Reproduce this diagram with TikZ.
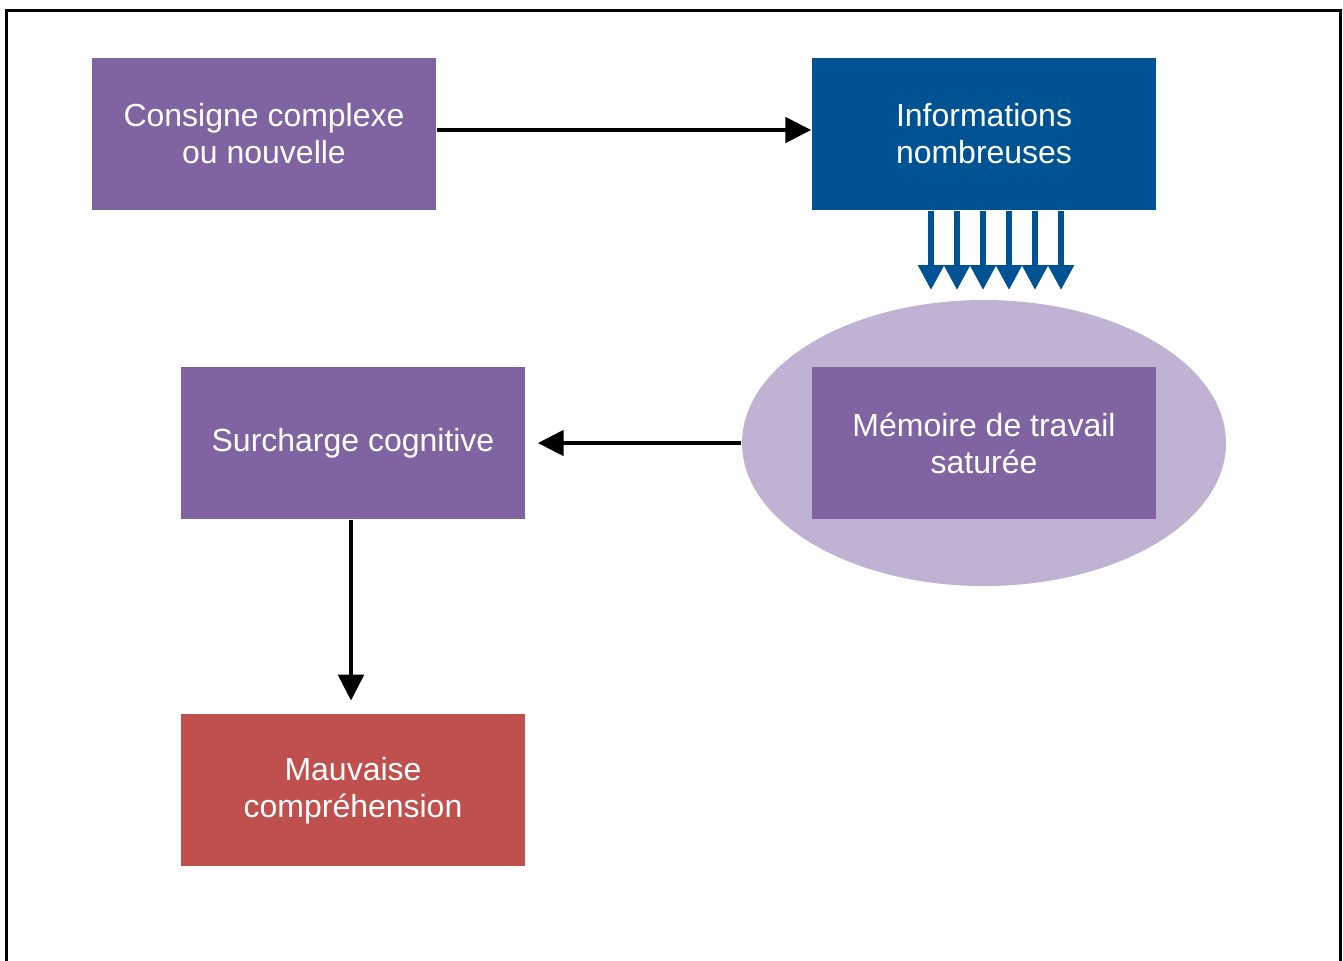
\documentclass[tikz,border=0pt]{standalone}
\usepackage{fontspec}
\setmainfont{Liberation Sans}
\usepackage{tikz}
\usetikzlibrary{positioning,shapes,arrows.meta}

\definecolor{boxpurple}{RGB}{128,100,162}
\definecolor{ovalpurple}{RGB}{192,178,210}
\definecolor{boxblue}{RGB}{0,83,147}
\definecolor{boxred}{RGB}{192,80,77}

\begin{document}
\begin{tikzpicture}[
  mybox/.style={rectangle,minimum width=3.44cm,minimum height=1.52cm,inner sep=0pt,align=center,text=white,font=\fontsize{9.1}{10.5}\selectfont},
  myboxp/.style={mybox,fill=boxpurple},
  myboxb/.style={mybox,fill=boxblue},
  myboxr/.style={mybox,fill=boxred},
  myarrow/.style={line width=1.4pt,-{Triangle[length=0.26cm,width=0.25cm]}},
  myarrowb/.style={draw=boxblue,line width=1.6pt,-{Triangle[length=0.25cm,width=0.25cm]}}
]
\useasboundingbox (0,0) rectangle (13.43,-9.60);
\draw[line width=0.85pt] (0.065,-10.5) -- (0.065,-0.10) -- (13.40,-0.10) -- (13.40,-10.5);

\node[ellipse,fill=ovalpurple,minimum width=4.84cm,minimum height=2.86cm,inner sep=0pt] at (9.84,-4.43) (Oval) {};

\node[myboxp] at (2.64,-1.34) (Consigne) {Consigne complexe\\ou nouvelle};
\node[myboxb] at (9.84,-1.34) (Info) {Informations\\nombreuses};
\node[myboxp] at (9.84,-4.43) (Memoire) {Mémoire de travail\\saturée};
\node[myboxp] at (3.53,-4.43) (Surcharge) {Surcharge cognitive};
\node[myboxr, below = 1.94 cm of Surcharge] (Mauvaise) {Mauvaise\\compréhension};

\draw[myarrow] ([yshift=0.04cm]Consigne.east) -- ([yshift=0.04cm]Info.west);
\draw[myarrow,shorten >=0.12cm] (Oval.west) -- (Surcharge.east);
\draw[myarrow,shorten >=0.13cm] ([xshift=-0.02cm]Surcharge.south) -- ([xshift=-0.02cm]Mauvaise.north);

\foreach \a in {0,1,...,5}{
\coordinate (T\a) at ({9.31+0.26*\a},-2.90);
\draw[myarrowb] (Info.south -| T\a) -- (T\a);
}

\end{tikzpicture}
\end{document}
